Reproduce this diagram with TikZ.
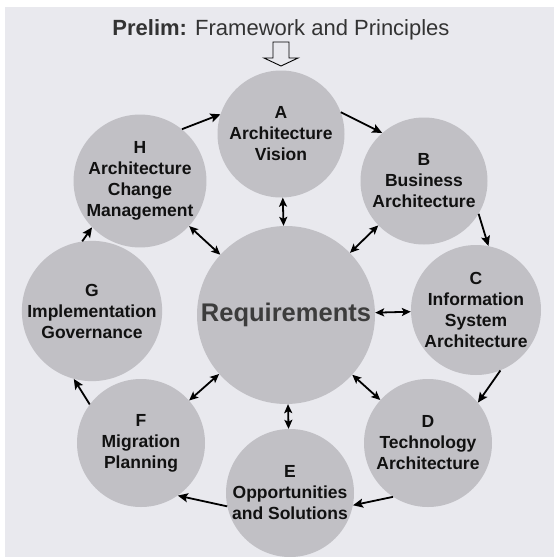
\documentclass[tikz,border=0pt]{standalone}
\usepackage{fontspec}
\setmainfont{Liberation Sans}
\usetikzlibrary{arrows.meta}
\definecolor{panel}{HTML}{E9E9EE}
\definecolor{disc}{HTML}{C1C0C5}
\definecolor{reqtext}{HTML}{3C3C3C}
\definecolor{titletext}{HTML}{333333}
\definecolor{labeltext}{HTML}{111111}
\begin{document}
\begin{tikzpicture}[x=1pt,y=-1pt,
  phase/.style={circle, fill=disc, draw=none, minimum size=#1, inner sep=0pt,
    align=center, text=labeltext, font=\fontsize{17.5}{21}\selectfont\bfseries},
  flow/.style={-{Stealth[length=10pt,width=9pt,inset=2pt]}, line width=1.8pt},
  spoke/.style={{Stealth[length=9pt,width=8pt,inset=2pt]}-{Stealth[length=9pt,width=8pt,inset=2pt]}, line width=1.8pt}]
\useasboundingbox (0,0) rectangle (554,557);
\fill[panel] (4.5,6.5) rectangle (554,557);

\node[anchor=base, text=titletext, font=\fontsize{22}{26}\selectfont] (title) at (281,35)
  {\textbf{Prelim:} Framework and Principles};
\draw[line width=0.9pt] (273,42) -- (289,42) -- (289,58) -- (298,58) -- (281,66)
  -- (264,58) -- (273,58) -- cycle;

\node[phase=127] (A) at (281,134) {A\\Architecture\\Vision};
\node[phase=127] (B) at (424,181) {B\\Business\\Architecture};
\node[phase=130] (C) at (476,310) {C\\Information\\System\\Architecture};
\node[phase=128] (D) at (428,443) {D\\Technology\\Architecture};
\node[phase=128] (E) at (290,493) {E\\Opportunities\\and Solutions};
\node[phase=128] (F) at (141,443) {F\\Migration\\Planning};
\node[phase=128] (G) at (92,311) {G\\Implementation\\Governance};
\node[phase=127] (H) at (140,181) {H\\Architecture\\Change\\Management};
\node[circle, fill=disc, minimum size=178, inner sep=0pt, text=reqtext,
  font=\fontsize{25.5}{30}\selectfont\bfseries] (R) at (286,315) {Requirements};

\draw[flow] (H.51) -- (A.162);
\draw[flow] (A.20) -- (B.131);
\draw[flow] (B.-31) -- (C.79);
\draw[flow] (C.-68) -- (D.39);
\draw[flow] (D.-123) -- (E.-11);
\draw[flow] (E.192) -- (F.-55);
\draw[flow] (F.143) -- (G.-105);
\draw[flow] (G.98) -- (H.224);

\draw[spoke] (A) -- (R);
\draw[spoke] (B) -- (R);
\draw[spoke] (C) -- (R);
\draw[spoke] (D) -- (R);
\draw[spoke] (E) -- (R);
\draw[spoke] (F) -- (R);
\draw[spoke] (H) -- (R);
\end{tikzpicture}
\end{document}
